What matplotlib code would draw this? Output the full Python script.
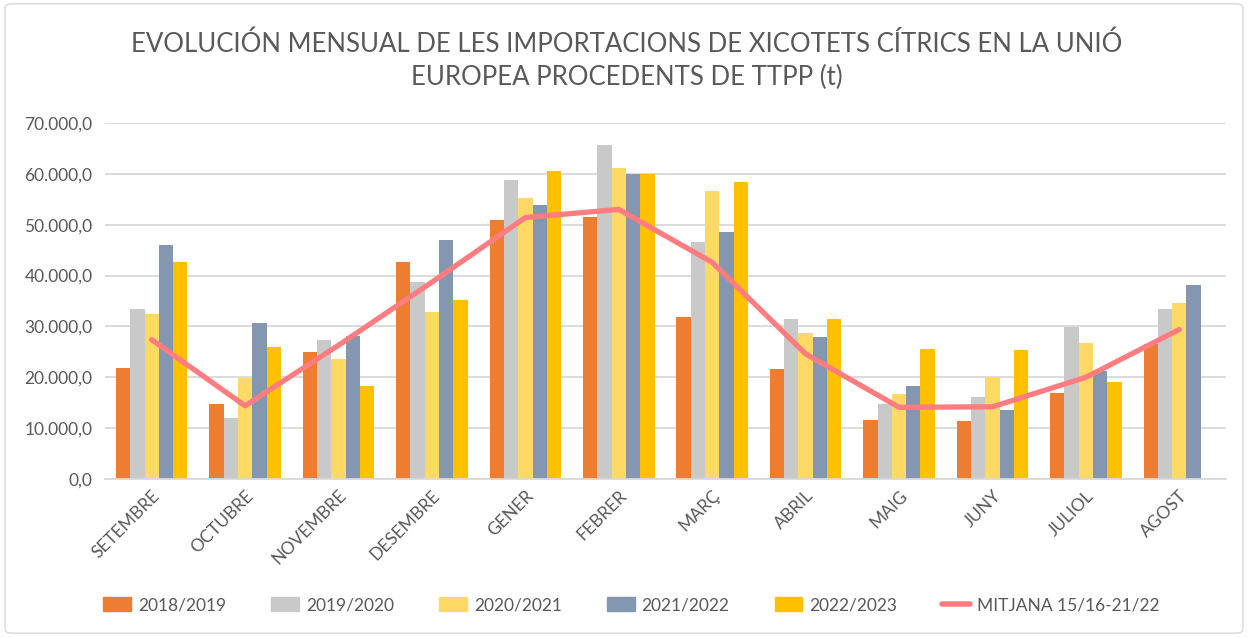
import matplotlib
matplotlib.use("Agg")
import matplotlib.pyplot as plt
import matplotlib.ticker as ticker
from matplotlib.patches import Patch, FancyBboxPatch
from matplotlib.lines import Line2D
import numpy as np

plt.rcParams['font.family'] = ['Lato', 'DejaVu Sans']

months = ["SETEMBRE", "OCTUBRE", "NOVEMBRE", "DESEMBRE", "GENER", "FEBRER",
          "MARÇ", "ABRIL", "MAIG", "JUNY", "JULIOL", "AGOST"]

s2018 = [21900, 14800, 24900, 42600, 51000, 51600, 31900, 21600, 11700, 11500, 16900, 26600]
s2019 = [33500, 12000, 27400, 38800, 58700, 65600, 46500, 31500, 14800, 16100, 29800, 33500]
s2020 = [32500, 19800, 23500, 32900, 55300, 61100, 56600, 28800, 16700, 20100, 26800, 34600]
s2021 = [46100, 30700, 28100, 46900, 53900, 59900, 48500, 28000, 18200, 13600, 21300, 38200]
s2022 = [42600, 25900, 18200, 35200, 60500, 59900, 58300, 31500, 25500, 25300, 19000, 0]
mitjana = [27400, 14400, 26300, 38700, 51400, 53000, 42600, 24600, 14100, 14200, 20000, 29400]

series = [("2018/2019", s2018, "#ED7D31"),
          ("2019/2020", s2019, "#C9C9C9"),
          ("2020/2021", s2020, "#FFD966"),
          ("2021/2022", s2021, "#8497B0"),
          ("2022/2023", s2022, "#FFC000")]
line_color = "#FF7C80"
text_color = "#595959"


def fmt(v, pos):
    s = f"{v:,.1f}"
    return s.replace(",", "X").replace(".", ",").replace("X", ".")


def plot_chart():
    fig = plt.figure(figsize=(12.48, 6.37), dpi=100)
    ax = fig.add_axes([0.0841, 0.248, 0.8983, 0.559])
    x = np.arange(len(months))
    w = 0.153
    for k, (name, vals, col) in enumerate(series):
        ax.bar(x + (k - 2) * w, vals, width=w, color=col, zorder=2)
    ax.plot(x, mitjana, color=line_color, lw=3.8, solid_capstyle="round",
            solid_joinstyle="round", zorder=3)

    ax.set_xlim(-0.5, len(months) - 0.5)
    ax.set_ylim(0, 70000)
    ax.yaxis.set_major_locator(ticker.MultipleLocator(10000))
    ax.yaxis.set_major_formatter(ticker.FuncFormatter(fmt))
    ax.grid(axis="y", color="#D9D9D9", lw=1.3, zorder=0)
    for sp in ["top", "right", "left"]:
        ax.spines[sp].set_visible(False)
    ax.spines["bottom"].set_color("#D9D9D9")
    ax.spines["bottom"].set_linewidth(1.3)
    ax.tick_params(axis="both", length=0, colors=text_color, labelsize=12.5)
    ax.tick_params(axis="y", pad=9)
    ax.set_xticks(x)
    ax.set_xticklabels(months, rotation=45, ha="right", rotation_mode="anchor")
    ax.tick_params(axis="x", pad=6)

    fig.text(0.502, 0.930, "EVOLUCIÓN MENSUAL DE LES IMPORTACIONS DE XICOTETS CÍTRICS EN LA UNIÓ",
             ha="center", va="center", fontsize=18.5, color=text_color)
    fig.text(0.502, 0.879, "EUROPEA PROCEDENTS DE TTPP (t)",
             ha="center", va="center", fontsize=18.5, color=text_color)

    handles = [Patch(color=c, label=n) for n, v, c in series]
    handles.append(Line2D([0], [0], color=line_color, lw=4, label="MITJANA 15/16-21/22",
                          solid_capstyle="round"))
    fig.legend(handles=handles, loc="center", bbox_to_anchor=(0.506, 0.05), ncol=6,
               frameon=False, fontsize=12.5, labelcolor=text_color, handlelength=1.6,
               handleheight=0.8, columnspacing=2.6, handletextpad=0.4)

    border = FancyBboxPatch((0.004, 0.006), 0.992, 0.988, boxstyle="round,pad=0,rounding_size=0.006",
                            transform=fig.transFigure, fill=False, edgecolor="#D9D9D9", lw=1)
    fig.patches.append(border)

    fig.savefig("out.png", dpi=100)


if __name__ == "__main__":
    plot_chart()
